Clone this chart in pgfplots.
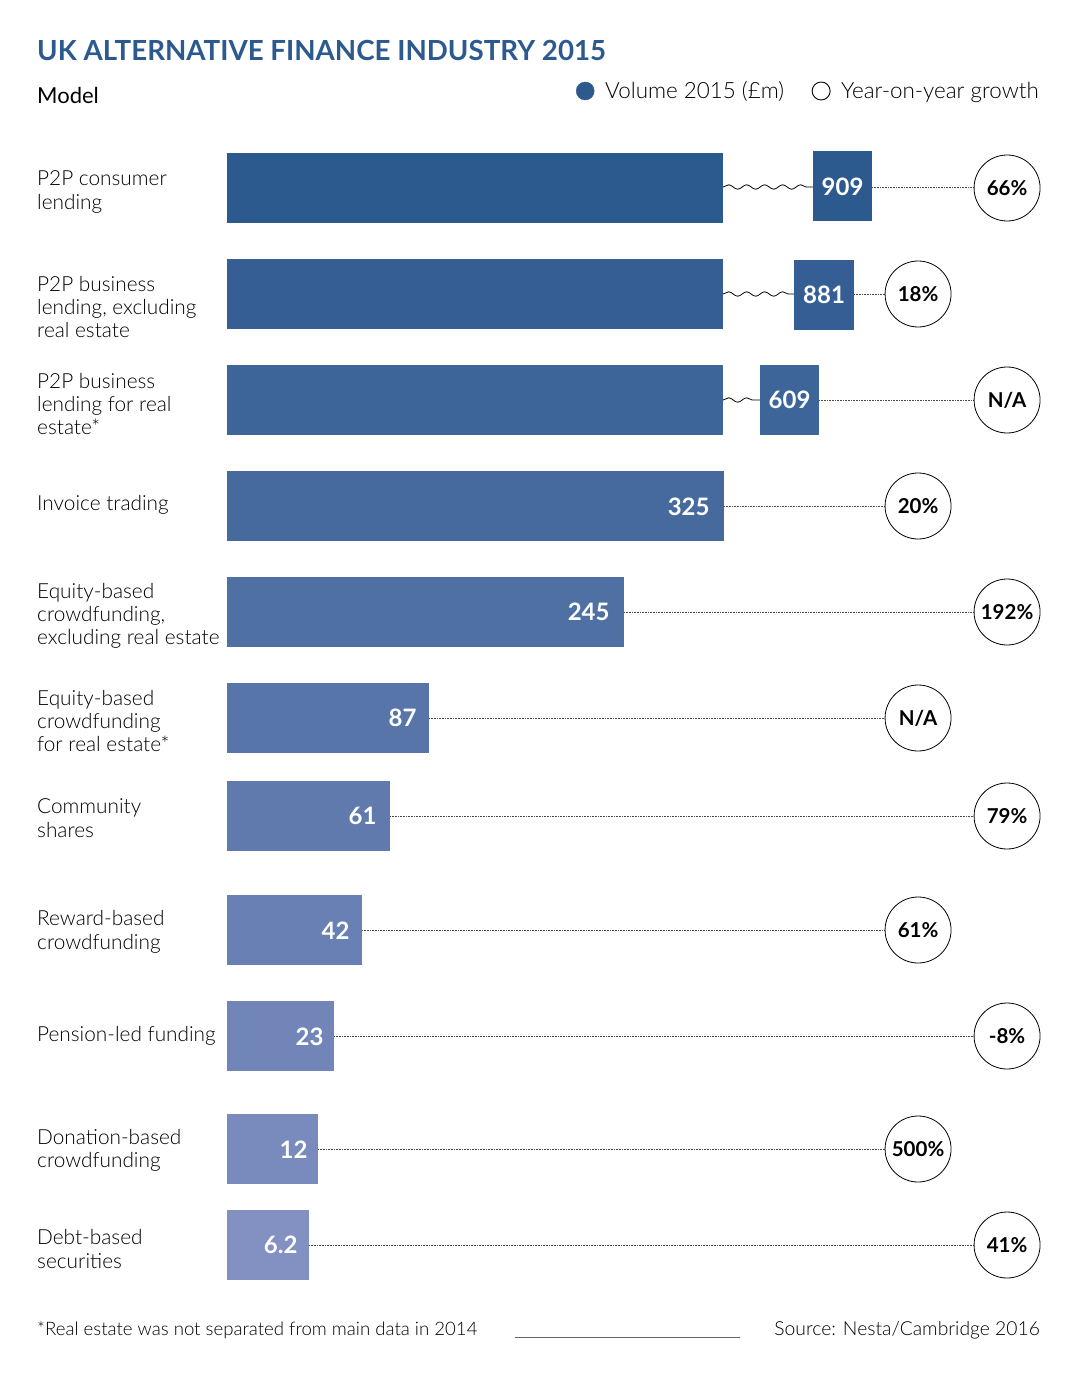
\documentclass[border=0pt]{standalone}
\usepackage{pgfplots}
\pgfplotsset{compat=1.18}
\usepackage{fontspec}
\setmainfont{Lato}
\IfFontExistsTF{Lato Light}{\newfontfamily\light{Lato Light}}{\newcommand{\light}{}}
\usetikzlibrary{decorations.pathmorphing}
\definecolor{tblue}{RGB}{44,90,143}
\definecolor{c0}{RGB}{44,90,143}
\definecolor{c1}{RGB}{53,95,148}
\definecolor{c2}{RGB}{61,101,153}
\definecolor{c3}{RGB}{70,106,158}
\definecolor{c4}{RGB}{78,112,163}
\definecolor{c5}{RGB}{87,117,169}
\definecolor{c6}{RGB}{96,122,174}
\definecolor{c7}{RGB}{104,128,179}
\definecolor{c8}{RGB}{113,133,184}
\definecolor{c9}{RGB}{121,139,189}
\definecolor{c10}{RGB}{130,144,194}
\newcommand{\lab}{\light\fontsize{20.8}{23.3}\selectfont}
\newcommand{\val}{\bfseries\fontsize{24}{24}\selectfont}
\begin{document}
\begin{tikzpicture}
\begin{axis}[
  width=1069pt, height=1375pt, scale only axis,
  xmin=-227, xmax=842, ymin=0, ymax=1375, y dir=reverse,
  hide axis, clip=false,
  legend style={at={(axis cs:346,91)}, anchor=west, draw=none, fill=none,
    font=\light\fontsize{22.4}{22.4}\selectfont, legend columns=2,
    /tikz/every even column/.append style={column sep=26pt},
    /tikz/every odd column/.append style={column sep=9pt}},
  legend cell align=left,
]
\path (rel axis cs:0,0) rectangle (rel axis cs:1,1);
\addlegendimage{only marks, mark=*, mark size=9pt, color=tblue}
\addlegendentry{Volume 2015 (£m)}
\addlegendimage{only marks, mark=o, mark size=9pt, mark options={draw=black, line width=0.9pt}}
\addlegendentry{Year-on-year growth}

% main bars (visual length, row centre)
\addplot[forget plot, xbar, bar width=70pt, fill=c0, draw=none] coordinates {(496,188)};
\addplot[forget plot, xbar, bar width=70pt, fill=c1, draw=none] coordinates {(496,294)};
\addplot[forget plot, xbar, bar width=70pt, fill=c2, draw=none] coordinates {(496,400)};
\addplot[forget plot, xbar, bar width=70pt, fill=c3, draw=none] coordinates {(497,506)};
\addplot[forget plot, xbar, bar width=70pt, fill=c4, draw=none] coordinates {(397,612)};
\addplot[forget plot, xbar, bar width=70pt, fill=c5, draw=none] coordinates {(202,718)};
\addplot[forget plot, xbar, bar width=70pt, fill=c6, draw=none] coordinates {(163,816)};
\addplot[forget plot, xbar, bar width=70pt, fill=c7, draw=none] coordinates {(135,930)};
\addplot[forget plot, xbar, bar width=70pt, fill=c8, draw=none] coordinates {(107,1036)};
\addplot[forget plot, xbar, bar width=70pt, fill=c9, draw=none] coordinates {(91,1149)};
\addplot[forget plot, xbar, bar width=70pt, fill=c10, draw=none] coordinates {(82,1245)};

% broken-bar end boxes
\addplot[forget plot, line width=70pt, color=c0, line cap=butt] coordinates {(586,186) (645,186)};
\addplot[forget plot, line width=70pt, color=c1, line cap=butt] coordinates {(567,295) (627,295)};
\addplot[forget plot, line width=70pt, color=c2, line cap=butt] coordinates {(533,400) (592,400)};

% wavy breaks
\draw[line width=0.8pt, decorate, decoration={snake, amplitude=2.2pt, segment length=18pt}] (axis cs:496,187) -- (axis cs:586,187);
\draw[line width=0.8pt, decorate, decoration={snake, amplitude=2.2pt, segment length=18pt}] (axis cs:496,294) -- (axis cs:567,294);
\draw[line width=0.8pt, decorate, decoration={snake, amplitude=2.2pt, segment length=18pt}] (axis cs:496,400) -- (axis cs:533,400);

% dotted connectors
\begin{scope}[densely dotted, line width=0.6pt, black!70]
\draw (axis cs:645,187) -- (axis cs:747,187);
\draw (axis cs:627,294) -- (axis cs:658,294);
\draw (axis cs:592,400) -- (axis cs:747,400);
\draw (axis cs:497,506) -- (axis cs:658,506);
\draw (axis cs:397,612) -- (axis cs:747,612);
\draw (axis cs:202,718) -- (axis cs:658,718);
\draw (axis cs:163,816) -- (axis cs:747,816);
\draw (axis cs:135,930) -- (axis cs:658,930);
\draw (axis cs:107,1036) -- (axis cs:747,1036);
\draw (axis cs:91,1149) -- (axis cs:658,1149);
\draw (axis cs:82,1245) -- (axis cs:747,1245);
\end{scope}

% growth circles
\addplot[forget plot, only marks, mark=*, mark size=33pt,
  mark options={fill=white, draw=black, line width=0.8pt},
  point meta=explicit symbolic, nodes near coords,
  every node near coord/.append style={anchor=center, font=\bfseries\fontsize{20.5}{20.5}\selectfont, text=black}]
  coordinates {
  (780,188) [66\%]
  (691,294) [18\%]
  (780,400) [N/A]
  (691,506) [20\%]
  (780,612) [192\%]
  (691,718) [N/A]
  (780,816) [79\%]
  (691,930) [61\%]
  (780,1036) [-8\%]
  (691,1149) [500\%]
  (780,1245) [41\%]
  };

% values
\node[text=white, font=\val] at (axis cs:615.5,187) {909};
\node[text=white, font=\val] at (axis cs:597,295) {881};
\node[text=white, font=\val] at (axis cs:562.5,400) {609};
\node[text=white, font=\val, anchor=east] at (axis cs:486,507) {325};
\node[text=white, font=\val, anchor=east] at (axis cs:386,612) {245};
\node[text=white, font=\val, anchor=east] at (axis cs:193,718) {87};
\node[text=white, font=\val, anchor=east] at (axis cs:153,816) {61};
\node[text=white, font=\val, anchor=east] at (axis cs:126,931) {42};
\node[text=white, font=\val, anchor=east] at (axis cs:100,1037) {23};
\node[text=white, font=\val, anchor=east] at (axis cs:84,1150) {12};
\node[text=white, font=\val, anchor=east] at (axis cs:74,1245) {6.2};

% category labels
\begin{scope}[every node/.style={anchor=west, align=left, font=\lab, inner sep=0pt}]
\node at (axis cs:-190,192) {P2P consumer\\lending};
\node at (axis cs:-190,307) {P2P business\\lending, excluding\\real estate};
\node at (axis cs:-190,404) {P2P business\\lending for real\\estate*};
\node at (axis cs:-190,505) {Invoice trading};
\node at (axis cs:-190,616) {Equity-based\\crowdfunding,\\excluding real estate};
\node at (axis cs:-190,721) {Equity-based\\crowdfunding\\for real estate*};
\node at (axis cs:-190,818) {Community\\shares};
\node at (axis cs:-190,932) {Reward-based\\crowdfunding};
\node at (axis cs:-190,1036) {Pension-led funding};
\node at (axis cs:-190,1150) {Donation-based\\crowdfunding};
\node at (axis cs:-190,1249) {Debt-based\\securities};
\end{scope}

% titles
\node[anchor=west, inner sep=0pt, text=tblue, font=\bfseries\fontsize{27.7}{27.7}\selectfont] at (axis cs:-190,50) {UK ALTERNATIVE FINANCE INDUSTRY 2015};
\node[anchor=west, inner sep=0pt, font=\fontsize{22}{22}\selectfont] at (axis cs:-190,95) {Model};

% footer
\node[anchor=west, inner sep=0pt, font=\light\fontsize{18.6}{18.6}\selectfont] at (axis cs:-190,1330) {*Real estate was not separated from main data in 2014};
\draw[line width=0.8pt, black!60] (axis cs:288,1337) -- (axis cs:513,1337);
\node[anchor=east, inner sep=0pt, font=\light\fontsize{19.3}{19.3}\selectfont] at (axis cs:813,1330) {Source: Nesta/Cambridge 2016};
\end{axis}
\end{tikzpicture}
\end{document}
